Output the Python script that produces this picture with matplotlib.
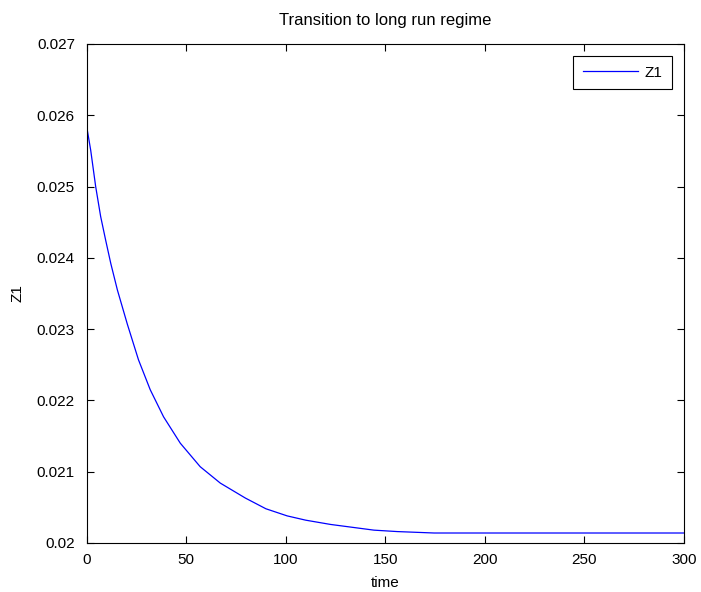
import matplotlib
matplotlib.use('Agg')
import matplotlib.pyplot as plt

# values
time = [0, 2, 4.5, 7, 9.5, 12.1, 15.4, 20.4, 26, 31.9, 38.6, 47, 57,
        67.1, 79.7, 90, 100.7, 110, 122.5, 144.3, 156, 174.5, 200, 250, 300]
z1 = [0.02584, 0.02551, 0.02500, 0.02458, 0.02425, 0.02392, 0.02355, 0.02307,
      0.02257, 0.02215, 0.02177, 0.02140, 0.02107, 0.02084, 0.02063, 0.02048,
      0.02038, 0.02032, 0.02026, 0.02018, 0.02016, 0.02014, 0.02014, 0.02014,
      0.02014]

plt.rcParams['font.family'] = ['Liberation Sans', 'DejaVu Sans']

fig = plt.figure(figsize=(7.01, 5.92), dpi=100)
ax = fig.add_axes([0.1237, 0.0828, 0.852, 0.8429])

ax.plot(time, z1, color='#0000ff', linewidth=0.9, label='Z1')

ax.set_xlim(0, 300)
ax.set_ylim(0.020, 0.027)
ax.set_xticks([0, 50, 100, 150, 200, 250, 300])
ax.set_yticks([0.020, 0.021, 0.022, 0.023, 0.024, 0.025, 0.026, 0.027])
ax.set_yticklabels(['0.02', '0.021', '0.022', '0.023', '0.024', '0.025', '0.026', '0.027'])
ax.tick_params(direction='in', top=True, right=True, labelsize=11, length=5)
ax.tick_params(axis='y', pad=8.5)
ax.tick_params(axis='x', pad=7)

ax.set_title('Transition to long run regime', fontsize=12, pad=14)
ax.set_xlabel('time', fontsize=11, labelpad=7)
ax.set_ylabel('Z1', fontsize=11, labelpad=9)

leg = ax.legend(loc='upper right', fontsize=11, fancybox=False, framealpha=1,
                edgecolor='black', handlelength=3.6, handletextpad=0.45,
                borderpad=0.62, borderaxespad=0.8)
leg.get_frame().set_linewidth(0.8)

plt.savefig('out.png', dpi=100)
